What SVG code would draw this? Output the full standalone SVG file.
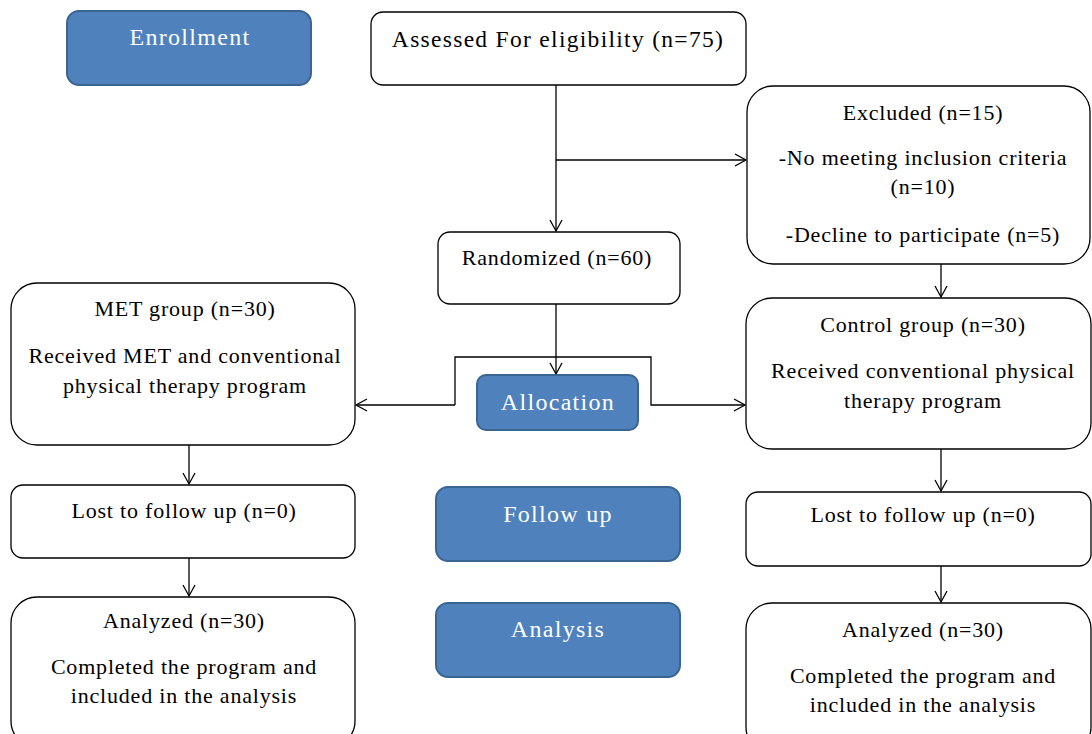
<svg xmlns="http://www.w3.org/2000/svg" width="1092" height="734" viewBox="0 0 1092 734">
<defs>
<style>
.box{fill:#fff;stroke:#000;stroke-width:1.3}
.blue{fill:#4F81BD;stroke:#3B6591;stroke-width:2}
.t{font-family:"Liberation Serif","Times New Roman",serif;font-size:22px;letter-spacing:0.8px;fill:#000;text-anchor:middle}
.tw{font-family:"Liberation Serif","Times New Roman",serif;font-size:24px;letter-spacing:1.3px;fill:#fff;text-anchor:middle}
.c{fill:none;stroke:#000;stroke-width:1.3}
</style>
<marker id="ah" markerWidth="14" markerHeight="14" refX="12" refY="7" orient="auto" markerUnits="userSpaceOnUse">
<path d="M1,1 L12,7 L1,13" fill="none" stroke="#000" stroke-width="1.3"/>
</marker>
</defs>
<rect width="1092" height="734" fill="#fff"/>
<g id="connectors">
<path class="c" d="M556,85 V231" marker-end="url(#ah)"/>
<path class="c" d="M556,160 H746" marker-end="url(#ah)"/>
<path class="c" d="M941,264 V297" marker-end="url(#ah)"/>
<path class="c" d="M556,304 V374" marker-end="url(#ah)"/>
<path class="c" d="M455,405 H356" marker-end="url(#ah)"/>
<path class="c" d="M455,405 V357 H651 V405 H745" marker-end="url(#ah)"/>
<path class="c" d="M189,445 V484" marker-end="url(#ah)"/>
<path class="c" d="M941,449 V491" marker-end="url(#ah)"/>
<path class="c" d="M189,558 V596" marker-end="url(#ah)"/>
<path class="c" d="M941,566 V602" marker-end="url(#ah)"/>
</g>
<g id="enrollment"><rect class="blue" x="67" y="11" width="244" height="74" rx="12"/><text class="tw" x="190" y="45">Enrollment</text></g>
<g id="assessed"><rect class="box" x="371" y="12" width="375" height="73" rx="12"/><text class="t" x="558" y="47" style="font-size:23.5px;letter-spacing:1.3px">Assessed For eligibility (n=75)</text></g>
<g id="excluded"><rect class="box" x="747" y="86" width="343" height="178" rx="26"/>
<text class="t" x="923" y="120">Excluded (n=15)</text>
<text class="t" x="923" y="165">-No meeting inclusion criteria</text>
<text class="t" x="923" y="194">(n=10)</text>
<text class="t" x="923" y="242">-Decline to participate (n=5)</text></g>
<g id="randomized"><rect class="box" x="438" y="232" width="242" height="72" rx="12"/><text class="t" x="557" y="265">Randomized (n=60)</text></g>
<g id="met"><rect class="box" x="11" y="283" width="344" height="162" rx="26"/>
<text class="t" x="185" y="316">MET group (n=30)</text>
<text class="t" x="185" y="363">Received MET and conventional</text>
<text class="t" x="185" y="393">physical therapy program</text></g>
<g id="control"><rect class="box" x="746" y="298" width="345" height="151" rx="26"/>
<text class="t" x="923" y="332">Control group (n=30)</text>
<text class="t" x="923" y="378">Received conventional physical</text>
<text class="t" x="923" y="408">therapy program</text></g>
<g id="allocation"><rect class="blue" x="477" y="375" width="161" height="55" rx="9"/><text class="tw" x="558" y="410">Allocation</text></g>
<g id="lost-left"><rect class="box" x="11" y="485" width="344" height="73" rx="12"/><text class="t" x="184" y="518">Lost to follow up (n=0)</text></g>
<g id="followup"><rect class="blue" x="436" y="487" width="244" height="74" rx="12"/><text class="tw" x="558" y="522">Follow up</text></g>
<g id="lost-right"><rect class="box" x="746" y="492" width="345" height="74" rx="12"/><text class="t" x="923" y="522">Lost to follow up (n=0)</text></g>
<g id="analyzed-left"><rect class="box" x="11" y="597" width="344" height="150" rx="26"/>
<text class="t" x="184" y="628">Analyzed (n=30)</text>
<text class="t" x="184" y="674">Completed the program and</text>
<text class="t" x="184" y="703">included in the analysis</text></g>
<g id="analysis"><rect class="blue" x="436" y="603" width="244" height="74" rx="12"/><text class="tw" x="558" y="637">Analysis</text></g>
<g id="analyzed-right"><rect class="box" x="746" y="603" width="345" height="150" rx="26"/>
<text class="t" x="923" y="637">Analyzed (n=30)</text>
<text class="t" x="923" y="683">Completed the program and</text>
<text class="t" x="923" y="712">included in the analysis</text></g>
</svg>
